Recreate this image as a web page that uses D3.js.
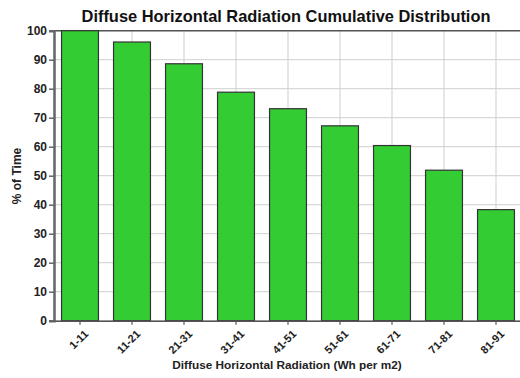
<!DOCTYPE html>
<html><head><meta charset="utf-8">
<script src="https://cdn.jsdelivr.net/npm/d3@7"></script>
<style>body{margin:0;background:#fff}svg{display:block}text{font-family:"Liberation Sans",Arial,sans-serif}</style>
</head><body>
<svg id="c" width="520" height="378"></svg>
<script>
const categories = ["1-11","11-21","21-31","31-41","41-51","51-61","61-71","71-81","81-91"];
const values = [100, 96.1, 88.6, 78.8, 73.1, 67.2, 60.4, 51.9, 38.3];
const yTicks = [0,10,20,30,40,50,60,70,80,90,100];
const title = "Diffuse Horizontal Radiation Cumulative Distribution";
const xTitle = "Diffuse Horizontal Radiation (Wh per m2)";
const yTitle = "% of Time";

const svg = d3.select("#c");
const L = 54, R = 522, T = 30.7, B = 320.7;
const x = d3.scaleBand().domain(categories).range([L, R]).paddingInner(0.29).paddingOuter(0.145);
const y = d3.scaleLinear().domain([0, 100]).range([B, T]);

// grid
const g = svg.append("g");
g.selectAll("line.h").data(yTicks).join("line")
  .attr("x1", L).attr("x2", R).attr("y1", d => y(d)).attr("y2", d => y(d))
  .attr("stroke", "#cfcfcf").attr("stroke-width", 1);
g.selectAll("line.v").data(categories).join("line")
  .attr("x1", d => x(d) + x.bandwidth()/2).attr("x2", d => x(d) + x.bandwidth()/2)
  .attr("y1", T).attr("y2", B)
  .attr("stroke", "#cfcfcf").attr("stroke-width", 1);
// top border
svg.append("line").attr("x1", L).attr("x2", R).attr("y1", T).attr("y2", T).attr("stroke", "#555").attr("stroke-width", 1.5);

// bars
svg.selectAll("rect.bar").data(values).join("rect")
  .attr("x", (d,i) => x(categories[i]))
  .attr("width", x.bandwidth())
  .attr("y", d => y(d))
  .attr("height", d => B - y(d))
  .attr("fill", "#33cc33").attr("stroke", "#333").attr("stroke-width", 1.2);

// y axis
const ya = svg.append("g").attr("transform", `translate(${L},0)`)
  .call(d3.axisLeft(y).tickValues(yTicks).tickSize(5).tickPadding(2));
ya.select(".domain").attr("stroke", "#666").attr("stroke-width", 2.5);
ya.selectAll(".tick line").attr("stroke", "#666").attr("stroke-width", 1.5);
ya.selectAll("text").attr("font-size", 12).attr("font-weight", "bold").attr("fill", "#222")
  .style("font-family", "Liberation Sans, Arial, sans-serif");

// x axis
const xa = svg.append("g").attr("transform", `translate(0,${B})`)
  .call(d3.axisBottom(x).tickSize(4).tickSizeOuter(0));
xa.select(".domain").attr("stroke", "#555").attr("stroke-width", 1.5);
xa.selectAll(".tick line").attr("stroke", "#555").attr("stroke-width", 1.2);
xa.selectAll("text").attr("font-size", 11).attr("font-weight", "bold").attr("fill", "#222")
  .style("font-family", "Liberation Sans, Arial, sans-serif")
  .attr("text-anchor", "end").attr("x", 0).attr("y", 0).attr("dy", 0).attr("dx", 0)
  .attr("transform", "translate(9,14) rotate(-45)");

// titles
svg.append("text").attr("x", 286).attr("y", 22).attr("text-anchor", "middle")
  .attr("font-size", 16.4).attr("font-weight", "bold").attr("fill", "#111").text(title);
svg.append("text").attr("x", 287).attr("y", 369).attr("text-anchor", "middle")
  .attr("font-size", 11.8).attr("font-weight", "bold").attr("fill", "#222").text(xTitle);
svg.append("text").attr("transform", "translate(21,176) rotate(-90)").attr("text-anchor", "middle")
  .attr("font-size", 12).attr("font-weight", "bold").attr("fill", "#222").text(yTitle);
</script>
</body></html>
